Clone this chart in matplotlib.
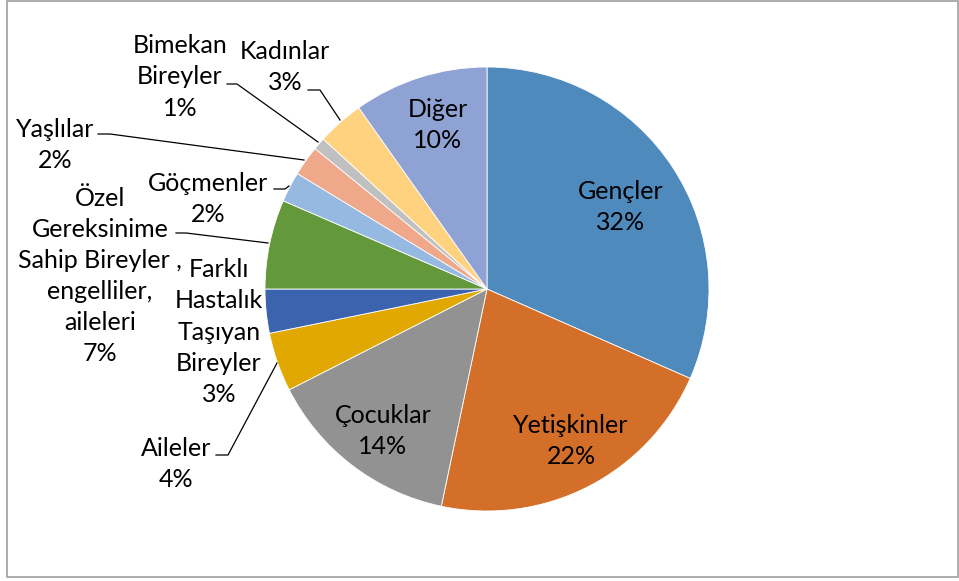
import matplotlib
matplotlib.use("Agg")
import matplotlib.pyplot as plt
from matplotlib.patches import Rectangle

# slice data, clockwise from 12 o'clock
names = ["Gençler", "Yetişkinler", "Çocuklar", "Aileler",
         "Farklı\nHastalık\nTaşıyan\nBireyler",
         "Özel\nGereksinime\nSahip Bireyler ,\nengelliler,\naileleri",
         "Göçmenler", "Yaşlılar", "Bimekan\nBireyler", "Kadınlar", "Diğer"]
shares = [31.6, 21.7, 14.2, 4.3, 3.2, 6.5, 2.2, 2.2, 0.9, 3.4, 9.8]
pct_labels = ["32%", "22%", "14%", "4%", "3%", "7%", "2%", "2%", "1%", "3%", "10%"]
colors = ["#4f8abd", "#d46f2a", "#929292", "#e0a800", "#3c63ad", "#63983b",
          "#95b9e1", "#f0a88a", "#c0c0c0", "#ffd280", "#8fa2d4"]

# label centres (pixels, y from top) and leader lines
label_pos = [(621, 207), (571, 441), (383, 431), (176, 464), (219, 332),
             (100, 276), (208, 199), (55, 145), (180, 77), (285, 67), (438, 125)]
leaders = {
    3: [(216, 455), (228, 455), (277, 363)],
    5: [(176, 233), (186, 233), (268, 243)],
    6: [(274, 189), (285, 189), (289, 186)],
    7: [(98, 134), (110, 134), (304, 160)],
    8: [(227, 84), (237, 84), (318, 142)],
    9: [(308, 90), (320, 90), (340, 120)],
}

W, H = 959, 581
fig = plt.figure(figsize=(W / 100, H / 100), dpi=100)
ax = fig.add_axes([0, 0, 1, 1])

cx, cy, r = 487, 289, 222
ax.pie(shares, colors=colors, startangle=90, counterclock=False,
       radius=r, center=(cx, H - cy), frame=True,
       wedgeprops=dict(edgecolor="white", linewidth=0.6))
ax.set_xlim(0, W)
ax.set_ylim(0, H)
ax.set_aspect("equal")
ax.axis("off")

for name, pct, (px, py) in zip(names, pct_labels, label_pos):
    ax.text(px, H - py, name + "\n" + pct, ha="center", va="center",
            multialignment="center", fontsize=18, family="Lato",
            linespacing=1.43, color="black")

for pts in leaders.values():
    xs = [p[0] for p in pts]
    ys = [H - p[1] for p in pts]
    ax.plot(xs, ys, color="black", lw=0.9)

# outer frame
fig.patches.append(Rectangle((7 / W, (H - 577) / H), 951 / W, 576 / H,
                             transform=fig.transFigure, fill=False,
                             edgecolor="#a0a0a0", lw=1.2))

fig.savefig("out.png", dpi=100)
